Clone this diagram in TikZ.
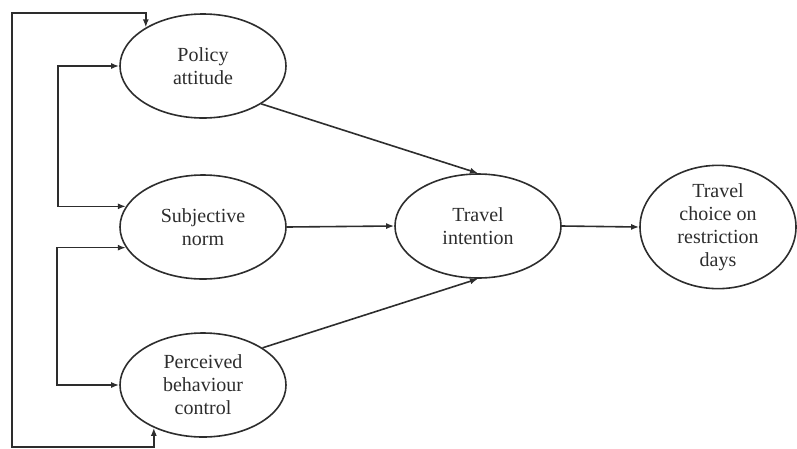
\documentclass[tikz,border=0pt]{standalone}
\usepackage{fontspec}
\setmainfont{Liberation Serif}
\usepackage{tikz}
\usetikzlibrary{shapes.geometric}
\usetikzlibrary{arrows.meta}
\definecolor{ln}{RGB}{45, 45, 45}

\begin{document}
\begin{tikzpicture}[
  var/.style={ellipse, draw=ln, line width=1.6pt, inner sep=0pt, minimum width=166pt, minimum height=104pt, align=center, font=\fontsize{20}{23}\selectfont, text=ln},
  conn/.style={draw=ln, line width=1.6pt, -{Latex[length=8pt, width=6pt]}},
  corr/.style={draw=ln, line width=1.6pt, {Latex[length=8pt, width=6pt]}-{Latex[length=8pt, width=6pt]}}]
\useasboundingbox (0pt, 0pt) rectangle (797pt, -448pt);
\node (att) [var] at (203pt, -66pt) {Policy\\attitude};
\node (norm) [var] at (203pt, -227pt) {Subjective\\norm};
\node (pbc) [var] at (203pt, -385pt) {Perceived\\behaviour\\control};
\node (int) [var] at (478pt, -226pt) {Travel\\intention};
\node (choice) [var, minimum width=156pt] at (718pt, -227pt) {Travel\\choice on\\restriction\\days};
\coordinate (top) at (12pt, -13pt);
\coordinate (bot) at (12pt, -447pt);
\coordinate (ja) at (58pt, -140pt);
\coordinate (jb) at (57pt, -310pt);
\draw [conn] (att.-33) to (int.north);
\draw [conn] (norm.east) to (int.west);
\draw [conn] (pbc.32) to (int.south);
\draw [conn] (int.east) to (choice.west);
\draw [corr] (att.west) -| (ja) |- (norm.165);
\draw [corr] (norm.195) -| (jb) |- (pbc.west);
\draw [corr] (att.146) |- (top) -- (bot) -| (pbc.-139);
\end{tikzpicture}
\end{document}
